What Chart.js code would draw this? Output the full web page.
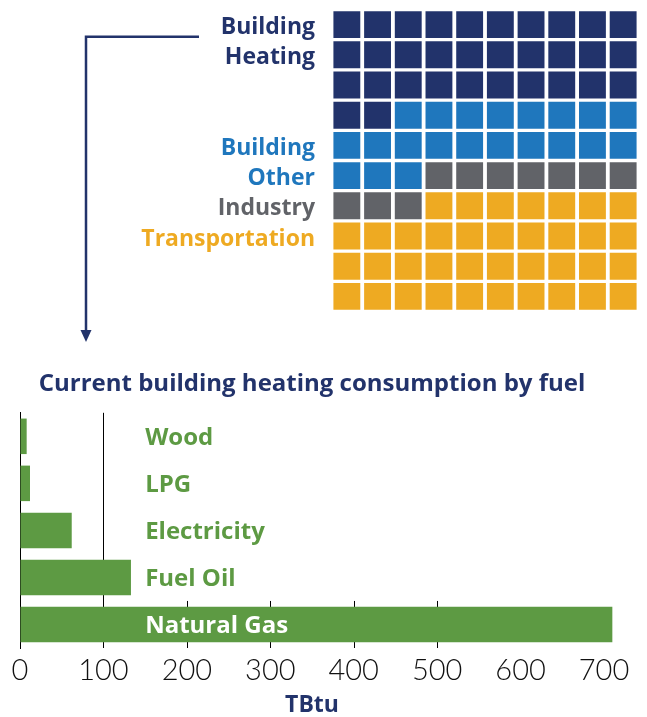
<!DOCTYPE html>
<html lang="en">
<head>
    <meta charset="UTF-8">
    <title>Building heating consumption</title>
    <script src="https://cdn.jsdelivr.net/npm/chart.js"></script>
    <style>
        body { margin: 0; background: #fff; overflow: hidden; }
        .box { position: absolute; left: 0; width: 647px; }
        #waffleBox { top: 0; height: 350px; }
        #barBox { top: 355px; height: 362px; }
    </style>
</head>
<body>
    <div class="box" id="waffleBox"><canvas id="waffle"></canvas></div>
    <div class="box" id="barBox"><canvas id="bars"></canvas></div>

    <script>
        // waffle: share of total energy use (100 squares)
        const sectors = ['Building Heating', 'Building Other', 'Industry', 'Transportation'];
        const sectorSquares = [32, 21, 10, 37];
        const sectorColors = ['#22336b', '#1f77bd', '#616368', '#eeaa22'];
        const rowLabels = ['Building', 'Heating', '', '', 'Building', 'Other', 'Industry', 'Transportation', '', ''];
        const rowLabelSector = [0, 0, 0, 0, 1, 1, 2, 3, 3, 3];

        // bar chart: building heating by fuel
        const fuels = ['Wood', 'LPG', 'Electricity', 'Fuel Oil', 'Natural Gas'];
        const consumption = [8, 12, 62, 133, 710];
        const xTicks = [0, 100, 200, 300, 400, 500, 600, 700];

        const NAVY = '#22336b';
        const GREEN = '#5d9a43';

        function waffleData() {
            let cell = 0;
            return sectors.map((name, s) => {
                const pts = [];
                for (let k = 0; k < sectorSquares[s]; k++, cell++) {
                    pts.push({ x: cell % 10, y: Math.floor(cell / 10) });
                }
                return {
                    label: name,
                    data: pts,
                    pointStyle: 'rect',
                    pointRadius: 19,
                    pointHoverRadius: 19,
                    pointBorderWidth: 0,
                    backgroundColor: sectorColors[s]
                };
            });
        }

        // arrow from "Building Heating" down to the bar chart
        const arrowPlugin = {
            id: 'arrow',
            afterDraw(chart) {
                const ctx = chart.ctx;
                const y0 = chart.scales.y.getPixelForValue(0.4);
                ctx.save();
                ctx.strokeStyle = NAVY;
                ctx.fillStyle = NAVY;
                ctx.lineWidth = 2.5;
                ctx.beginPath();
                ctx.moveTo(199, y0);
                ctx.lineTo(86, y0);
                ctx.lineTo(86, 332);
                ctx.stroke();
                ctx.beginPath();
                ctx.moveTo(80.5, 330);
                ctx.lineTo(91.5, 330);
                ctx.lineTo(86, 342);
                ctx.closePath();
                ctx.fill();
                ctx.restore();
            }
        };

        // short tick lines behind the natural gas bar, plus in-chart fuel names
        const barExtras = {
            id: 'barExtras',
            beforeDatasetsDraw(chart) {
                const { ctx, chartArea, scales } = chart;
                const band = scales.y.getPixelForValue(1) - scales.y.getPixelForValue(0);
                const top = scales.y.getPixelForValue(fuels.length - 1) - band / 2;
                ctx.save();
                ctx.strokeStyle = '#000';
                ctx.lineWidth = 1;
                [200, 300, 400, 500].forEach(v => {
                    const x = Math.round(scales.x.getPixelForValue(v)) + 0.5;
                    ctx.beginPath();
                    ctx.moveTo(x, top);
                    ctx.lineTo(x, chartArea.bottom);
                    ctx.stroke();
                });
                ctx.restore();
            },
            afterDatasetsDraw(chart) {
                const { ctx, scales } = chart;
                const x = scales.x.getPixelForValue(150);
                ctx.save();
                ctx.font = 'bold 24px "Open Sans"';
                ctx.textAlign = 'left';
                ctx.textBaseline = 'alphabetic';
                fuels.forEach((name, i) => {
                    const w = ctx.measureText(name).width;
                    const end = scales.x.getPixelForValue(consumption[i]);
                    ctx.fillStyle = end > x + w ? '#fff' : GREEN;
                    ctx.fillText(name, x, scales.y.getPixelForValue(i) + 8.5);
                });
                ctx.restore();
            }
        };

        function draw() {
            new Chart(document.getElementById('waffle'), {
                type: 'scatter',
                data: { datasets: waffleData() },
                options: {
                    responsive: true,
                    maintainAspectRatio: false,
                    animation: false,
                    events: [],
                    layout: { autoPadding: false, padding: { left: 0, right: 8.5, top: 9.5, bottom: 38.5 } },
                    plugins: { legend: { display: false }, tooltip: { enabled: false } },
                    scales: {
                        x: { type: 'linear', min: -0.5, max: 9.5, display: false },
                        y: {
                            type: 'linear',
                            min: -0.5,
                            max: 9.5,
                            reverse: true,
                            grid: { display: false, drawTicks: false },
                            border: { display: false },
                            afterBuildTicks: s => { s.ticks = rowLabels.map((_, i) => ({ value: i })); },
                            afterFit: s => {
                                s.width = 331.5;
                                s.paddingTop = 0;
                                s.paddingBottom = 0;
                            },
                            ticks: {
                                padding: 16.5,
                                labelOffset: 3,
                                font: { family: 'Open Sans', weight: 'bold', size: 23 },
                                color: c => sectorColors[rowLabelSector[c.index]],
                                callback: (v, i) => rowLabels[i]
                            }
                        }
                    }
                },
                plugins: [arrowPlugin]
            });

            new Chart(document.getElementById('bars'), {
                type: 'bar',
                data: {
                    labels: fuels,
                    datasets: [{
                        label: 'TBtu',
                        data: consumption,
                        backgroundColor: GREEN,
                        categoryPercentage: 1,
                        barPercentage: 0.755,
                        clip: false
                    }]
                },
                options: {
                    indexAxis: 'y',
                    responsive: true,
                    maintainAspectRatio: false,
                    animation: false,
                    events: [],
                    layout: { padding: { left: 20, right: 43, top: 0, bottom: 0 } },
                    plugins: {
                        legend: { display: false },
                        tooltip: { enabled: false },
                        title: {
                            display: true,
                            text: 'Current building heating consumption by fuel',
                            color: NAVY,
                            font: { family: 'Open Sans', weight: 'bold', size: 24, lineHeight: 1.2 },
                            padding: { top: 14.5, bottom: 14.5 }
                        }
                    },
                    scales: {
                        x: {
                            type: 'linear',
                            min: 0,
                            max: 700,
                            afterBuildTicks: s => { s.ticks = xTicks.map(v => ({ value: v })); },
                            afterFit: s => {
                                s.height = 69;
                                s.paddingLeft = 0;
                                s.paddingRight = 0;
                            },
                            grid: {
                                drawTicks: false,
                                color: c => (c.tick && c.tick.value === 100) ? '#000' : 'rgba(0,0,0,0)'
                            },
                            border: { display: false },
                            ticks: {
                                padding: 5,
                                color: '#111',
                                font: { family: 'Lato', weight: 300, size: 29, lineHeight: 1.2 }
                            },
                            title: {
                                display: true,
                                text: 'TBtu',
                                color: NAVY,
                                font: { family: 'Open Sans', weight: 'bold', size: 23, lineHeight: 1 },
                                padding: { top: 3, bottom: 0 }
                            }
                        },
                        y: {
                            grid: { display: false, drawTicks: false },
                            border: { display: true, color: '#000', width: 1 },
                            ticks: { display: false }
                        }
                    }
                },
                plugins: [barExtras]
            });
        }

        Promise.all([
            document.fonts.load('bold 23px "Open Sans"'),
            document.fonts.load('300 29px Lato')
        ]).then(draw, draw);
    </script>
</body>
</html>
